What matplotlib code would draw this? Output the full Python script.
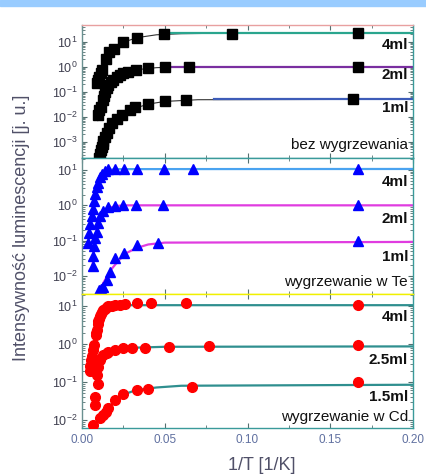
import matplotlib
matplotlib.use("Agg")
import matplotlib.pyplot as plt
from matplotlib.ticker import MultipleLocator, LogLocator, NullFormatter, FormatStrFormatter
from matplotlib.patches import Rectangle

plt.rcParams["font.family"] = ["Liberation Sans", "DejaVu Sans"]
plt.rcParams["mathtext.default"] = "regular"

# ---- top panel: bez wygrzewania (black squares) ----
top_4ml_x = [0.0089, 0.0098, 0.0105, 0.0112, 0.0119, 0.0143, 0.0163, 0.0195, 0.025, 0.033, 0.0497, 0.0906, 0.1666]
top_4ml_y = [0.22, 0.3, 0.4, 0.55, 0.74, 2.0, 4.0, 5.0, 9.5, 14.5, 20, 21, 22]
top_4ml_fit_x = [0.0085, 0.010, 0.012, 0.015, 0.02, 0.025, 0.033, 0.045, 0.06, 0.08, 0.2]
top_4ml_fit_y = [0.15, 0.35, 0.8, 2.3, 5.5, 9.5, 14.5, 19, 21, 21.8, 22]

top_2ml_x = [0.0098, 0.0105, 0.0113, 0.0125, 0.0132, 0.0139, 0.0149, 0.0159, 0.0175, 0.0189, 0.021, 0.023, 0.025,
             0.028, 0.0326, 0.040, 0.050, 0.0648, 0.1666]
top_2ml_y = [0.0117, 0.018, 0.025, 0.047, 0.07, 0.097, 0.14, 0.19, 0.24, 0.29, 0.38, 0.47, 0.55,
             0.63, 0.74, 0.91, 0.97, 1.0, 1.0]
top_2ml_fit_x = [0.0095, 0.011, 0.013, 0.016, 0.02, 0.025, 0.033, 0.045, 0.06, 0.2]
top_2ml_fit_y = [0.007, 0.02, 0.06, 0.18, 0.34, 0.55, 0.76, 0.92, 0.99, 1.0]

top_1ml_x = [0.0105, 0.0109, 0.0114, 0.0119, 0.0124, 0.0129, 0.0139, 0.0149, 0.0165, 0.018, 0.021, 0.024,
             0.029, 0.032, 0.040, 0.050, 0.0628, 0.164]
top_1ml_y = [2.3e-4, 3.2e-4, 4.5e-4, 6e-4, 8e-4, 1.1e-3, 1.6e-3, 2.2e-3, 3.5e-3, 5.5e-3, 8.5e-3, 0.0117,
             0.0186, 0.024, 0.032, 0.043, 0.047, 0.051]
top_1ml_fit_x = [0.010, 0.012, 0.015, 0.02, 0.025, 0.03, 0.04, 0.05, 0.07, 0.2]
top_1ml_fit_y = [1.5e-4, 6e-4, 2.5e-3, 7.5e-3, 0.0135, 0.02, 0.032, 0.041, 0.048, 0.05]

# ---- middle panel: wygrzewanie w Te (blue triangles) ----
mid_4ml_x = [0.0038, 0.0042, 0.0048, 0.0059, 0.0068, 0.0074, 0.0079, 0.0089, 0.0098, 0.0109, 0.0119, 0.0139,
             0.0159, 0.02, 0.0256, 0.033, 0.0497, 0.067, 0.1666]
mid_4ml_y = [0.087, 0.17, 0.29, 0.49, 0.77, 1.3, 2.1, 3.2, 4.4, 6.2, 7.7, 9.5,
             10.7, 10.7, 10.7, 10.7, 10.7, 10.7, 10.7]
mid_4ml_fit_x = [0.004, 0.005, 0.006, 0.007, 0.008, 0.009, 0.010, 0.012, 0.015, 0.02, 0.2]
mid_4ml_fit_y = [0.1, 0.25, 0.5, 1.0, 1.9, 3.2, 4.8, 7.5, 9.8, 10.6, 10.7]

mid_2ml_x = [0.0064, 0.0068, 0.0074, 0.0079, 0.0089, 0.0098, 0.0109, 0.0129, 0.0159, 0.02, 0.025, 0.0326, 0.049, 0.1666]
mid_2ml_y = [0.019, 0.036, 0.069, 0.12, 0.18, 0.32, 0.49, 0.69, 0.87, 0.98, 1.05, 1.0, 1.05, 1.05]
mid_2ml_fit_x = [0.0062, 0.007, 0.008, 0.009, 0.010, 0.012, 0.015, 0.02, 0.025, 0.2]
mid_2ml_fit_y = [0.015, 0.045, 0.11, 0.2, 0.32, 0.55, 0.8, 0.95, 1.0, 1.0]

mid_1ml_x = [0.0105, 0.0115, 0.0129, 0.0149, 0.0169, 0.0199, 0.0256, 0.033, 0.0461, 0.1666]
mid_1ml_y = [0.004, 0.0042, 0.005, 0.0077, 0.013, 0.032, 0.045, 0.077, 0.085, 0.1]
mid_1ml_fit_x = [0.0095, 0.011, 0.013, 0.015, 0.018, 0.022, 0.027, 0.033, 0.04, 0.05, 0.2]
mid_1ml_fit_y = [0.0028, 0.0042, 0.0065, 0.0095, 0.016, 0.027, 0.045, 0.062, 0.078, 0.088, 0.092]

# ---- bottom panel: wygrzewanie w Cd (red circles) ----
bot_4ml_x = [0.0048, 0.0050, 0.0054, 0.0059, 0.0068, 0.0073, 0.0083, 0.0087, 0.0089, 0.0095, 0.0099, 0.0103,
             0.0108, 0.0115, 0.0122, 0.0129, 0.0138, 0.0149, 0.016, 0.018, 0.020, 0.023, 0.026, 0.033,
             0.0417, 0.0626, 0.1666]
bot_4ml_y = [0.2, 0.27, 0.37, 0.5, 0.68, 0.93, 1.7, 2.0, 2.3, 3.4, 4.0, 4.7,
             5.5, 6.3, 7.0, 7.7, 8.5, 9.4, 10.0, 10.4, 10.7, 10.9, 11.2, 11.8,
             11.8, 11.8, 10.6]
bot_4ml_fit_x = [0.0045, 0.006, 0.007, 0.008, 0.009, 0.010, 0.012, 0.015, 0.02, 0.03, 0.2]
bot_4ml_fit_y = [0.15, 0.45, 0.75, 1.3, 2.3, 4.0, 6.8, 9.3, 10.5, 10.6, 10.6]

bot_25ml_x = [0.0078, 0.0080, 0.0089, 0.0095, 0.0098, 0.0109, 0.0129, 0.0149, 0.0159, 0.02, 0.0246,
              0.030, 0.038, 0.0527, 0.0768, 0.1666]
bot_25ml_y = [0.025, 0.04, 0.15, 0.091, 0.25, 0.38, 0.51, 0.6, 0.63, 0.72, 0.77,
              0.78, 0.8, 0.85, 0.9, 0.92]
bot_25ml_fit_x = [0.0085, 0.009, 0.010, 0.011, 0.013, 0.016, 0.02, 0.03, 0.05, 0.2]
bot_25ml_fit_y = [0.1, 0.17, 0.28, 0.38, 0.52, 0.64, 0.72, 0.8, 0.85, 0.87]

bot_15ml_x = [0.0068, 0.0109, 0.0129, 0.0143, 0.0159, 0.02, 0.025, 0.033, 0.040, 0.0663, 0.1666]
bot_15ml_y = [0.0074, 0.011, 0.0135, 0.016, 0.0204, 0.034, 0.048, 0.062, 0.065, 0.076, 0.1]
bot_15ml_fit_x = [0.0065, 0.009, 0.011, 0.013, 0.016, 0.02, 0.025, 0.033, 0.045, 0.06, 0.2]
bot_15ml_fit_y = [0.0065, 0.009, 0.0115, 0.014, 0.021, 0.033, 0.047, 0.062, 0.072, 0.08, 0.085]

labels_top = ["4ml", "2ml", "1ml"]
labels_mid = ["4ml", "2ml", "1ml"]
labels_bot = ["4ml", "2.5ml", "1.5ml"]
titles = ["bez wygrzewania", "wygrzewanie w Te", "wygrzewanie w Cd"]

fig = plt.figure(figsize=(4.26, 4.75), dpi=100)
fig.patches.append(Rectangle((0, 1 - 6 / 475), 1, 6 / 475, transform=fig.transFigure,
                             color="#99ccff", zorder=0))

L, W = 82 / 426, 331 / 426
boxes = [(1 - 158 / 475, 133 / 475), (1 - 294 / 475, 136 / 475), (1 - 428 / 475, 134 / 475)]
ylims = [(10 ** -3.65, 10 ** 1.67), (10 ** -2.51, 10 ** 1.34), (10 ** -2.21, 10 ** 1.32)]

panels = [
    dict(series=[(top_4ml_x, top_4ml_y, top_4ml_fit_x, top_4ml_fit_y, "#2aa58e", 0.053),
                 (top_2ml_x, top_2ml_y, top_2ml_fit_x, top_2ml_fit_y, "#7a2fa0", 0.053),
                 (top_1ml_x, top_1ml_y, top_1ml_fit_x, top_1ml_fit_y, "#3d5cb8", 0.08)],
         marker="s", mcolor="black", ms=7, curve="#333333", labels=labels_top,
         ly=[0.85, 0.624, 0.376], ty=0.098),
    dict(series=[(mid_4ml_x, mid_4ml_y, mid_4ml_fit_x, mid_4ml_fit_y, "#4aa3f0", None),
                 (mid_2ml_x, mid_2ml_y, mid_2ml_fit_x, mid_2ml_fit_y, "#e03ce0", None),
                 (mid_1ml_x, mid_1ml_y, mid_1ml_fit_x, mid_1ml_fit_y, "#e03ce0", None)],
         marker="^", mcolor="#0000ff", ms=7.5, curve=None, labels=labels_mid,
         ly=[0.822, 0.548, 0.274], ty=0.089),
    dict(series=[(bot_4ml_x, bot_4ml_y, bot_4ml_fit_x, bot_4ml_fit_y, "#2f8f8f", None),
                 (bot_25ml_x, bot_25ml_y, bot_25ml_fit_x, bot_25ml_fit_y, "#2f8f8f", None),
                 (bot_15ml_x, bot_15ml_y, bot_15ml_fit_x, bot_15ml_fit_y, "#2f8f8f", None)],
         marker="o", mcolor="#ff0000", ms=7, curve=None, labels=labels_bot,
         ly=[0.828, 0.507, 0.231], ty=0.082),
]

spine_cols = [("#e8a0a0", "#3a9a9a"), ("#3a9a9a", "#f0f000"), ("#f0f000", "#3a9a9a")]

for i, (p, (b, h), yl) in enumerate(zip(panels, boxes, ylims)):
    ax = fig.add_axes([L, b, W, h])
    ax.set_yscale("log")
    for xs, ys, fx, fy, col, start in p["series"]:
        if p["curve"]:
            ax.plot(fx, fy, color=p["curve"], lw=0.8, zorder=2)
            ax.plot([start, 0.2], [fy[-1], fy[-1]], color=col, lw=1.6, zorder=2)
        else:
            ax.plot(fx, fy, color=col, lw=1.6, zorder=2)
        ax.plot(xs, ys, ls="none", marker=p["marker"], color=p["mcolor"],
                ms=p["ms"], mec=p["mcolor"], zorder=3)
    for lab, yy in zip(p["labels"], p["ly"]):
        ax.text(0.985, yy, lab, transform=ax.transAxes, ha="right", va="center",
                fontsize=11, fontweight="bold", color="#111111")
    ax.text(0.985, p["ty"], titles[i], transform=ax.transAxes, ha="right", va="center",
            fontsize=11, color="#111111")
    ax.set_xlim(0, 0.2)
    ax.set_ylim(*yl)
    ax.xaxis.set_major_locator(MultipleLocator(0.05))
    ax.xaxis.set_minor_locator(MultipleLocator(0.025))
    ax.xaxis.set_major_formatter(FormatStrFormatter("%.2f"))
    ax.yaxis.set_major_locator(LogLocator(base=10, numticks=12))
    ax.yaxis.set_minor_locator(LogLocator(base=10, subs=range(2, 10), numticks=12))
    ax.yaxis.set_minor_formatter(NullFormatter())
    ax.tick_params(which="both", direction="in", top=True, right=True, colors="#557070")
    ax.tick_params(which="major", length=3.5, width=0.8)
    ax.tick_params(which="minor", length=2, width=0.6)
    ax.tick_params(axis="y", labelsize=9, labelcolor="#404050", pad=3)
    ax.tick_params(axis="x", labelsize=8.5, labelcolor="#6070a0", pad=4)
    ax.spines["top"].set_color(spine_cols[i][0])
    ax.spines["bottom"].set_color(spine_cols[i][1])
    ax.spines["left"].set_color("#6a9090")
    ax.spines["right"].set_color("#3a9a9a")
    for s in ax.spines.values():
        s.set_linewidth(1.0)
    if i < 2:
        ax.tick_params(axis="x", labelbottom=False)

fig.text(262 / 426, 1 - 465 / 475, "1/T [1/K]", ha="center", va="center",
         fontsize=13, color="#505068")
fig.text(22 / 426, 1 - 228 / 475, "Intensywność luminescencji [j. u.]", ha="center",
         va="center", rotation=90, fontsize=13, color="#505068")

fig.savefig("out.png", dpi=100)
